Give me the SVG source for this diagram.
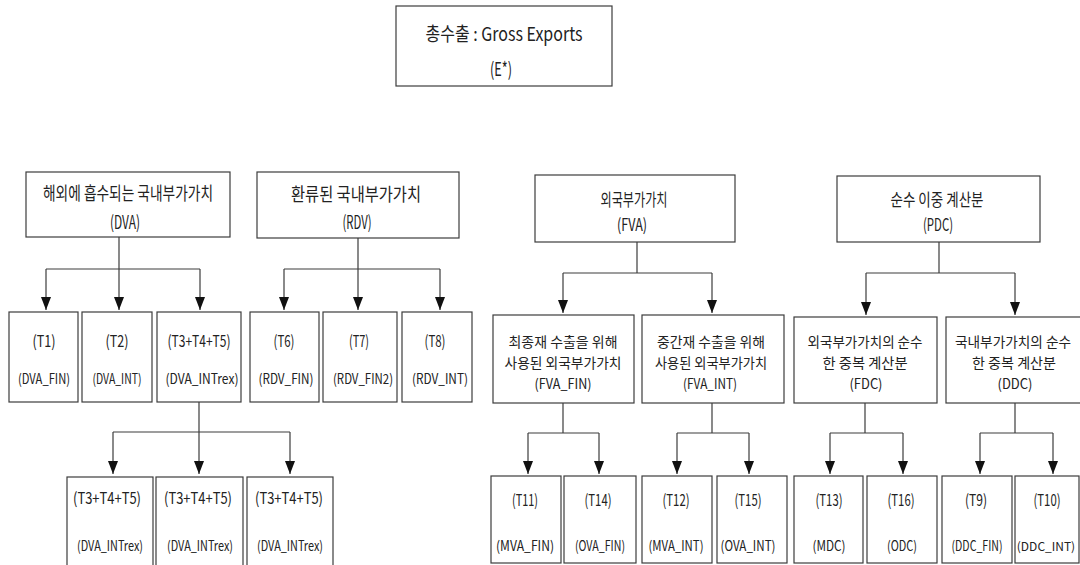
<svg xmlns="http://www.w3.org/2000/svg" width="1080" height="565" viewBox="0 0 1080 565">
<style>
  .box { fill: #ffffff; stroke: #3c3c3c; stroke-width: 1.2; }
  .conn { fill: none; stroke: #3c3c3c; stroke-width: 1.2; }
  text { font-family: "Noto Sans CJK KR", "Noto Sans", sans-serif; fill: #222; text-anchor: middle; dominant-baseline: central; }
  .t0 { font-size: 19px; }
  .t1 { font-size: 18px; }
  .t1s { font-size: 17px; }
  .t2 { font-size: 16px; }
  .t3 { font-size: 14px; }
  .t4 { font-size: 14px; }
</style>
<defs>
  <marker id="ah" markerUnits="userSpaceOnUse" markerWidth="14" markerHeight="10" refX="13" refY="5" orient="auto" viewBox="0 0 14 10">
    <path d="M0,0 L13,5 L0,10 Z" fill="#111"/>
  </marker>
</defs>
<rect width="1080" height="565" fill="#ffffff"/>

<g id="connectors">
  <!-- DVA -->
  <path class="conn" d="M119,237 V269 M46,269 H200"/>
  <path class="conn" d="M46,269 V310" marker-end="url(#ah)"/>
  <path class="conn" d="M119,269 V310" marker-end="url(#ah)"/>
  <path class="conn" d="M200,269 V310" marker-end="url(#ah)"/>
  <!-- RDV -->
  <path class="conn" d="M358,238 V269 M284,269 H440"/>
  <path class="conn" d="M284,269 V310" marker-end="url(#ah)"/>
  <path class="conn" d="M358,269 V310" marker-end="url(#ah)"/>
  <path class="conn" d="M440,269 V310" marker-end="url(#ah)"/>
  <!-- DVA_INTrex -->
  <path class="conn" d="M199,402 V432 M113,432 H290"/>
  <path class="conn" d="M113,432 V474" marker-end="url(#ah)"/>
  <path class="conn" d="M199,432 V474" marker-end="url(#ah)"/>
  <path class="conn" d="M290,432 V474" marker-end="url(#ah)"/>
  <!-- FVA -->
  <path class="conn" d="M637,242 V273 M563,273 H712"/>
  <path class="conn" d="M563,273 V313" marker-end="url(#ah)"/>
  <path class="conn" d="M712,273 V313" marker-end="url(#ah)"/>
  <!-- PDC -->
  <path class="conn" d="M939,242 V273 M866,273 H1015"/>
  <path class="conn" d="M866,273 V315" marker-end="url(#ah)"/>
  <path class="conn" d="M1015,273 V315" marker-end="url(#ah)"/>
  <!-- FVA_FIN -->
  <path class="conn" d="M563,403 V433 M528,433 H599"/>
  <path class="conn" d="M528,433 V474" marker-end="url(#ah)"/>
  <path class="conn" d="M599,433 V474" marker-end="url(#ah)"/>
  <!-- FVA_INT -->
  <path class="conn" d="M712,403 V433 M677,433 H749"/>
  <path class="conn" d="M677,433 V474" marker-end="url(#ah)"/>
  <path class="conn" d="M749,433 V474" marker-end="url(#ah)"/>
  <!-- FDC -->
  <path class="conn" d="M865,403 V433 M830,433 H903"/>
  <path class="conn" d="M830,433 V474" marker-end="url(#ah)"/>
  <path class="conn" d="M903,433 V474" marker-end="url(#ah)"/>
  <!-- DDC -->
  <path class="conn" d="M1015,403 V433 M980,433 H1053"/>
  <path class="conn" d="M980,433 V474" marker-end="url(#ah)"/>
  <path class="conn" d="M1053,433 V474" marker-end="url(#ah)"/>
</g>

<g id="E">
  <rect class="box" x="396" y="6" width="216" height="80"/>
  <text class="t0" x="504" y="32" textLength="157" lengthAdjust="spacingAndGlyphs">총수출 : Gross Exports</text>
  <text class="t0" x="501" y="67" textLength="22" lengthAdjust="spacingAndGlyphs">(E*)</text>
</g>

<g id="DVA">
  <rect class="box" x="26" y="172" width="204" height="65"/>
  <text class="t1" x="128" y="192" textLength="170" lengthAdjust="spacingAndGlyphs">해외에 흡수되는 국내부가가치</text>
  <text class="t1" x="125" y="221" textLength="30" lengthAdjust="spacingAndGlyphs">(DVA)</text>
</g>
<g id="RDV">
  <rect class="box" x="257" y="172" width="202" height="66"/>
  <text class="t1" x="356" y="193" textLength="130" lengthAdjust="spacingAndGlyphs">환류된 국내부가가치</text>
  <text class="t1" x="357" y="221" textLength="29" lengthAdjust="spacingAndGlyphs">(RDV)</text>
</g>
<g id="FVA">
  <rect class="box" x="535" y="175" width="200" height="67"/>
  <text class="t1s" x="634" y="198" textLength="67" lengthAdjust="spacingAndGlyphs">외국부가가치</text>
  <text class="t1s" x="632" y="223" textLength="30" lengthAdjust="spacingAndGlyphs">(FVA)</text>
</g>
<g id="PDC">
  <rect class="box" x="837" y="176" width="203" height="66"/>
  <text class="t1s" x="937" y="198" textLength="93" lengthAdjust="spacingAndGlyphs">순수 이중 계산분</text>
  <text class="t1s" x="938" y="223" textLength="30" lengthAdjust="spacingAndGlyphs">(PDC)</text>
</g>

<g id="T1">
  <rect class="box" x="9" y="312" width="69" height="90"/>
  <text class="t2" x="44" y="340" textLength="23" lengthAdjust="spacingAndGlyphs">(T1)</text>
  <text class="t3" x="44" y="378" textLength="52" lengthAdjust="spacingAndGlyphs">(DVA_FIN)</text>
</g>
<g id="T2">
  <rect class="box" x="82" y="312" width="70" height="90"/>
  <text class="t2" x="117" y="340" textLength="23" lengthAdjust="spacingAndGlyphs">(T2)</text>
  <text class="t3" x="117" y="378" textLength="49" lengthAdjust="spacingAndGlyphs">(DVA_INT)</text>
</g>
<g id="T345">
  <rect class="box" x="157" y="312" width="84" height="90"/>
  <text class="t2" x="199" y="340" textLength="63" lengthAdjust="spacingAndGlyphs">(T3+T4+T5)</text>
  <text class="t3" x="202" y="378" textLength="73" lengthAdjust="spacingAndGlyphs">(DVA_INTrex)</text>
</g>
<g id="T6">
  <rect class="box" x="250" y="312" width="69" height="90"/>
  <text class="t2" x="284" y="340" textLength="21" lengthAdjust="spacingAndGlyphs">(T6)</text>
  <text class="t3" x="286" y="378" textLength="55" lengthAdjust="spacingAndGlyphs">(RDV_FIN)</text>
</g>
<g id="T7">
  <rect class="box" x="323" y="312" width="74" height="90"/>
  <text class="t2" x="359" y="340" textLength="20" lengthAdjust="spacingAndGlyphs">(T7)</text>
  <text class="t3" x="363" y="378" textLength="60" lengthAdjust="spacingAndGlyphs">(RDV_FIN2)</text>
</g>
<g id="T8">
  <rect class="box" x="402" y="312" width="70" height="90"/>
  <text class="t2" x="435" y="340" textLength="21" lengthAdjust="spacingAndGlyphs">(T8)</text>
  <text class="t3" x="440" y="378" textLength="56" lengthAdjust="spacingAndGlyphs">(RDV_INT)</text>
</g>

<g id="FVA_FIN">
  <rect class="box" x="493" y="315" width="141" height="88"/>
  <text class="t4" x="563" y="341" textLength="109" lengthAdjust="spacingAndGlyphs">최종재 수출을 위해</text>
  <text class="t4" x="563" y="362" textLength="117" lengthAdjust="spacingAndGlyphs">사용된 외국부가가치</text>
  <text class="t4" x="563" y="383" textLength="57" lengthAdjust="spacingAndGlyphs">(FVA_FIN)</text>
</g>
<g id="FVA_INT">
  <rect class="box" x="642" y="315" width="142" height="88"/>
  <text class="t4" x="711" y="341" textLength="108" lengthAdjust="spacingAndGlyphs">중간재 수출을 위해</text>
  <text class="t4" x="711" y="362" textLength="112" lengthAdjust="spacingAndGlyphs">사용된 외국부가가치</text>
  <text class="t4" x="710" y="383" textLength="54" lengthAdjust="spacingAndGlyphs">(FVA_INT)</text>
</g>
<g id="FDC">
  <rect class="box" x="794" y="317" width="143" height="86"/>
  <text class="t4" x="865" y="341" textLength="115" lengthAdjust="spacingAndGlyphs">외국부가가치의 순수</text>
  <text class="t4" x="865" y="362" textLength="85" lengthAdjust="spacingAndGlyphs">한 중복 계산분</text>
  <text class="t4" x="866" y="383" textLength="33" lengthAdjust="spacingAndGlyphs">(FDC)</text>
</g>
<g id="DDC">
  <rect class="box" x="946" y="317" width="138" height="86"/>
  <text class="t4" x="1013" y="341" textLength="116" lengthAdjust="spacingAndGlyphs">국내부가가치의 순수</text>
  <text class="t4" x="1014" y="362" textLength="84" lengthAdjust="spacingAndGlyphs">한 중복 계산분</text>
  <text class="t4" x="1015" y="383" textLength="35" lengthAdjust="spacingAndGlyphs">(DDC)</text>
</g>

<g id="X1">
  <rect class="box" x="67" y="477" width="86" height="95"/>
  <text class="t2" x="107" y="497" textLength="68" lengthAdjust="spacingAndGlyphs">(T3+T4+T5)</text>
  <text class="t3" x="110" y="545" textLength="66" lengthAdjust="spacingAndGlyphs">(DVA_INTrex)</text>
</g>
<g id="X2">
  <rect class="box" x="156" y="477" width="87" height="95"/>
  <text class="t2" x="198" y="497" textLength="68" lengthAdjust="spacingAndGlyphs">(T3+T4+T5)</text>
  <text class="t3" x="200" y="545" textLength="66" lengthAdjust="spacingAndGlyphs">(DVA_INTrex)</text>
</g>
<g id="X3">
  <rect class="box" x="247" y="477" width="86" height="95"/>
  <text class="t2" x="289" y="497" textLength="68" lengthAdjust="spacingAndGlyphs">(T3+T4+T5)</text>
  <text class="t3" x="290" y="545" textLength="66" lengthAdjust="spacingAndGlyphs">(DVA_INTrex)</text>
</g>

<g id="T11">
  <rect class="box" x="491" y="476" width="70" height="87"/>
  <text class="t2" x="525" y="499" textLength="26" lengthAdjust="spacingAndGlyphs">(T11)</text>
  <text class="t3" x="525" y="545" textLength="58" lengthAdjust="spacingAndGlyphs">(MVA_FIN)</text>
</g>
<g id="T14">
  <rect class="box" x="564" y="476" width="72" height="87"/>
  <text class="t2" x="598" y="499" textLength="27" lengthAdjust="spacingAndGlyphs">(T14)</text>
  <text class="t3" x="600" y="545" textLength="50" lengthAdjust="spacingAndGlyphs">(OVA_FIN)</text>
</g>
<g id="T12">
  <rect class="box" x="642" y="476" width="70" height="87"/>
  <text class="t2" x="676" y="499" textLength="27" lengthAdjust="spacingAndGlyphs">(T12)</text>
  <text class="t3" x="676" y="545" textLength="55" lengthAdjust="spacingAndGlyphs">(MVA_INT)</text>
</g>
<g id="T15">
  <rect class="box" x="717" y="476" width="70" height="87"/>
  <text class="t2" x="748" y="499" textLength="27" lengthAdjust="spacingAndGlyphs">(T15)</text>
  <text class="t3" x="748" y="545" textLength="55" lengthAdjust="spacingAndGlyphs">(OVA_INT)</text>
</g>
<g id="T13">
  <rect class="box" x="794" y="476" width="69" height="87"/>
  <text class="t2" x="829" y="499" textLength="27" lengthAdjust="spacingAndGlyphs">(T13)</text>
  <text class="t3" x="829" y="545" textLength="33" lengthAdjust="spacingAndGlyphs">(MDC)</text>
</g>
<g id="T16">
  <rect class="box" x="867" y="476" width="70" height="87"/>
  <text class="t2" x="901" y="499" textLength="27" lengthAdjust="spacingAndGlyphs">(T16)</text>
  <text class="t3" x="902" y="545" textLength="30" lengthAdjust="spacingAndGlyphs">(ODC)</text>
</g>
<g id="T9">
  <rect class="box" x="942" y="476" width="70" height="87"/>
  <text class="t2" x="976" y="499" textLength="22" lengthAdjust="spacingAndGlyphs">(T9)</text>
  <text class="t3" x="977" y="545" textLength="51" lengthAdjust="spacingAndGlyphs">(DDC_FIN)</text>
</g>
<g id="T10">
  <rect class="box" x="1015" y="476" width="64" height="87"/>
  <text class="t2" x="1047" y="499" textLength="27" lengthAdjust="spacingAndGlyphs">(T10)</text>
  <text style="font-size:12px" x="1046" y="545">(DDC_INT)</text>
</g>
</svg>
